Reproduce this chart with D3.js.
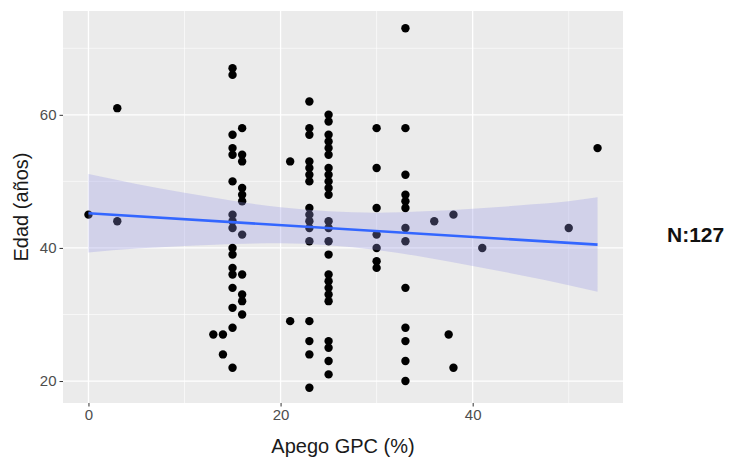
<!DOCTYPE html>
<html>
<head>
<meta charset="utf-8">
<script src="https://cdn.jsdelivr.net/npm/d3@7"></script>
<style>
  body { margin: 0; background: #fff; }
  svg { display: block; font-family: "Liberation Sans", Arial, sans-serif; }
</style>
</head>
<body>
<div id="chart"></div>
<script>
// Apego GPC (%) values, one per column of points
var apegoCols = [0, 3, 13, 14, 15, 16, 21, 23, 25, 30, 33, 36, 37.5, 38, 41, 50, 53];
// ages (años) read for each column
var edadCols = [
  [45],
  [61, 44],
  [27],
  [27, 24],
  [67, 66, 57, 55, 54, 50, 45, 44, 43, 40, 39, 37, 36, 34, 31, 28, 22],
  [58, 54, 53, 49, 48, 47, 42, 36, 33, 32, 30],
  [53, 29],
  [62, 58, 57, 53, 52, 51, 50, 46, 45, 44, 43, 41, 29, 26, 24, 19],
  [60, 59, 57, 56, 55, 54, 52, 51, 50, 49, 48, 44, 43, 41, 39, 36, 35, 34, 33, 32, 26, 25, 23, 21],
  [58, 52, 46, 42, 40, 38, 37],
  [73, 58, 51, 48, 47, 46, 43, 41, 34, 28, 26, 23, 20],
  [44],
  [27],
  [45, 22],
  [40],
  [43],
  [55]
];
// fitted line and confidence band
var fitX = [0, 53];
var fitY = [45.2, 40.5];
var bandX = [0, 5, 10, 15, 20, 25, 30, 35, 40, 45, 50, 53];
var bandLow = [39.3, 39.9, 40.3, 40.6, 40.7, 40.4, 39.7, 38.6, 37.3, 35.9, 34.4, 33.4];
var bandHigh = [51.1, 49.6, 48.3, 47.1, 46.1, 45.5, 45.3, 45.5, 45.9, 46.4, 47.0, 47.6];
var xTicks = [0, 20, 40], xMinor = [10, 30, 50];
var yTicks = [20, 40, 60], yMinor = [30, 50, 70];

var width = 736, height = 459;
var pLeft = 63, pRight = 623, pTop = 11, pBottom = 403;

var svg = d3.select("#chart").append("svg")
  .attr("width", width).attr("height", height);

var x = d3.scaleLinear().domain([-2.65, 55.65]).range([pLeft, pRight]);
var y = d3.scaleLinear().domain([16.7, 75.6]).range([pBottom, pTop]);

// panel
svg.append("rect").attr("x", pLeft).attr("y", pTop)
  .attr("width", pRight - pLeft).attr("height", pBottom - pTop)
  .attr("fill", "#ebebeb");

// grid
svg.selectAll(".xminor").data(xMinor).enter().append("line")
  .attr("x1", d => x(d)).attr("x2", d => x(d)).attr("y1", pTop).attr("y2", pBottom)
  .attr("stroke", "#fff").attr("stroke-width", 0.6);
svg.selectAll(".yminor").data(yMinor).enter().append("line")
  .attr("y1", d => y(d)).attr("y2", d => y(d)).attr("x1", pLeft).attr("x2", pRight)
  .attr("stroke", "#fff").attr("stroke-width", 0.6);
svg.selectAll(".xmajor").data(xTicks).enter().append("line")
  .attr("x1", d => x(d)).attr("x2", d => x(d)).attr("y1", pTop).attr("y2", pBottom)
  .attr("stroke", "#fff").attr("stroke-width", 1.3);
svg.selectAll(".ymajor").data(yTicks).enter().append("line")
  .attr("y1", d => y(d)).attr("y2", d => y(d)).attr("x1", pLeft).attr("x2", pRight)
  .attr("stroke", "#fff").attr("stroke-width", 1.3);

// points
var pts = [];
apegoCols.forEach(function(a, i) {
  edadCols[i].forEach(function(e) { pts.push({x: a, y: e}); });
});
svg.selectAll(".pt").data(pts).enter().append("circle")
  .attr("cx", d => x(d.x)).attr("cy", d => y(d.y)).attr("r", 4.2)
  .attr("fill", "#000");

// confidence band
var band = bandX.map((d, i) => ({x: d, lo: bandLow[i], hi: bandHigh[i]}));
svg.append("path").datum(band)
  .attr("d", d3.area().x(d => x(d.x)).y0(d => y(d.lo)).y1(d => y(d.hi)).curve(d3.curveMonotoneX))
  .attr("fill", "#9696e6").attr("fill-opacity", 0.3);

// fit line
svg.append("path").datum(fitX.map((d, i) => [d, fitY[i]]))
  .attr("d", d3.line().x(d => x(d[0])).y(d => y(d[1])))
  .attr("fill", "none").attr("stroke", "#3366ff").attr("stroke-width", 2.6);

// axes
var xAxis = svg.append("g").attr("transform", "translate(0," + pBottom + ")")
  .call(d3.axisBottom(x).tickValues(xTicks).tickSize(3.5).tickPadding(3));
var yAxis = svg.append("g").attr("transform", "translate(" + pLeft + ",0)")
  .call(d3.axisLeft(y).tickValues(yTicks).tickSize(3.5).tickPadding(3));
[xAxis, yAxis].forEach(function(g) {
  g.select(".domain").remove();
  g.selectAll(".tick line").attr("stroke", "#333").attr("stroke-width", 1);
  g.selectAll(".tick text").attr("fill", "#4d4d4d").style("font-size", "15px");
});

svg.append("text").attr("x", (pLeft + pRight) / 2).attr("y", 453)
  .attr("text-anchor", "middle").style("font-size", "20px").attr("fill", "#1a1a1a")
  .text("Apego GPC (%)");
svg.append("text").attr("transform", "translate(28," + ((pTop + pBottom) / 2) + ") rotate(-90)")
  .attr("text-anchor", "middle").style("font-size", "20px").attr("fill", "#1a1a1a")
  .text("Edad (años)");

svg.append("text").attr("x", 667).attr("y", 242)
  .style("font-size", "21px").style("font-weight", "bold").attr("fill", "#111")
  .text("N:127");
</script>
</body>
</html>
